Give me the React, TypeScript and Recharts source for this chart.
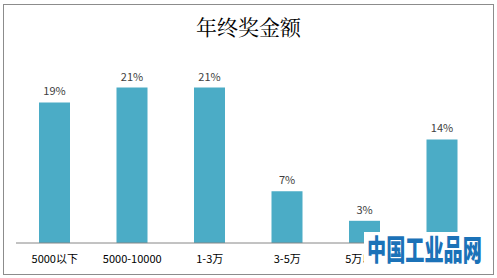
import { Bar, BarChart, LabelList, XAxis, YAxis } from "recharts";

// the sixth category label is hidden under the watermark in the source picture
const categories = ["5000以下", "5000-10000", "1-3万", "3-5万", "5万以上", ""];
const shares = [19, 21, 21, 7, 3, 14];

const data = categories.map((name, i) => ({ name, value: shares[i] }));

const FONT = '"Microsoft YaHei", "Noto Sans CJK SC", "Noto Sans", sans-serif';

export default function App() {
  return (
    <div style={{ position: "absolute", left: 0, top: 0, width: 497, height: 278, background: "#fff" }}>
      <div
        style={{
          position: "absolute",
          left: 3,
          top: 4,
          width: 489,
          height: 269,
          border: "1px solid #8c8c8c",
        }}
      />
      <div
        style={{
          position: "absolute",
          left: 0,
          top: 13,
          width: 497,
          textAlign: "center",
          fontFamily: '"Noto Serif CJK SC", "Noto Sans CJK SC", serif',
          fontSize: 21,
          lineHeight: "26px",
          color: "#000",
        }}
      >
        年终奖金额
      </div>
      <BarChart
        width={497}
        height={278}
        data={data}
        margin={{ top: 58, right: 16, bottom: 0, left: 16 }}
        barSize={31}
        style={{ position: "absolute", left: 0, top: 0 }}
      >
        <XAxis
          dataKey="name"
          height={35}
          tickLine={false}
          tickMargin={6}
          axisLine={{ stroke: "#868686" }}
          interval={0}
          tick={{ fontSize: 11, fill: "#000", fontFamily: FONT }}
        />
        <YAxis hide domain={[0, 25]} />
        <Bar dataKey="value" fill="#4bacc6" isAnimationActive={false}>
          <LabelList
            dataKey="value"
            position="top"
            offset={7}
            formatter={(v: number) => `${v}%`}
            style={{ fontSize: 11, fill: "#404040", fontFamily: FONT }}
          />
        </Bar>
      </BarChart>
      <div
        style={{
          position: "absolute",
          left: 364,
          top: 232,
          width: 124,
          height: 34,
          background: "#fff",
          overflow: "hidden",
        }}
      >
        <div
          style={{
            fontFamily: '"Noto Sans CJK SC", sans-serif',
            fontWeight: 900,
            fontSize: 29,
            lineHeight: "33px",
            color: "#1b72b8",
            transform: "scaleX(0.66)",
            transformOrigin: "0 0",
            whiteSpace: "nowrap",
            marginLeft: 3,
          }}
        >
          中国工业品网
        </div>
      </div>
    </div>
  );
}
